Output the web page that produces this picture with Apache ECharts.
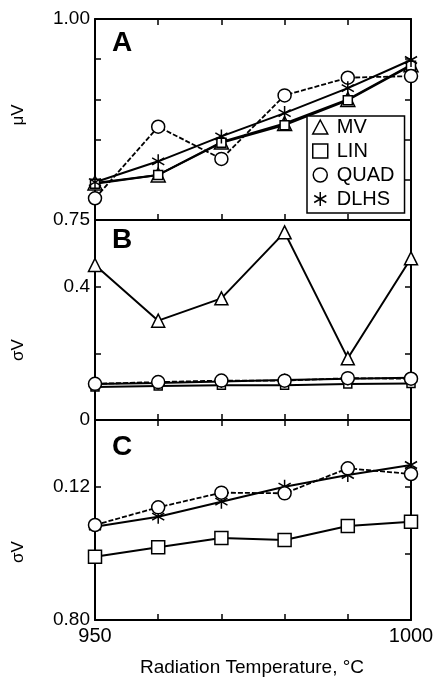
<!DOCTYPE html>
<html><head><meta charset="utf-8">
<script src="https://cdn.jsdelivr.net/npm/echarts@6/dist/echarts.min.js"></script>
<style>html,body{margin:0;padding:0;background:#fff}#c{width:437px;height:679px}</style>
</head><body><div id="c"></div>
<script>
const temps = [950, 960, 970, 980, 990, 1000];
// Panel A: mean (mu_V)
const muMV   = [0.796, 0.806, 0.847, 0.870, 0.900, 0.943];
const muLIN  = [0.795, 0.806, 0.846, 0.868, 0.899, 0.942];
const muQUAD = [0.777, 0.866, 0.826, 0.905, 0.927, 0.929];
const muDLHS = [0.797, 0.823, 0.854, 0.883, 0.914, 0.949];
// Panels B and C: sigma_V
const sigMV   = [0.465, 0.298, 0.365, 0.563, 0.185, 0.485];
const sigLIN  = [0.0990, 0.1018, 0.1046, 0.1040, 0.1082, 0.1095];
const sigQUAD = [0.1085, 0.1138, 0.1182, 0.1180, 0.1255, 0.1238];
const sigDLHS = [0.1080, 0.1110, 0.1155, 0.1200, 0.1235, 0.1265];
// tick labels
const xLabelVals = [950, 1000];         const xLabelText = ['950', '1000'];
const yLabelValsA = [0.75, 1.00];       const yLabelTextA = ['0.75', '1.00'];
const yLabelValsB = [0, 0.4];           const yLabelTextB = ['0', '0.4'];
const yLabelValsC = [0.08, 0.12];       const yLabelTextC = ['0.80', '0.12'];
const seriesNames = ['MV', 'LIN', 'QUAD', 'DLHS'];

const FONT = 'Liberation Sans, Arial, sans-serif';
const STAR = 'path://M0,-10L0,10M-8.66,-5L8.66,5M-8.66,5L8.66,-5';
function pairs(v){ return temps.map((t,i)=>[t, v[i]]); }
function fmt(vals, texts){
  return function(v){ for (let i=0;i<vals.length;i++) if (Math.abs(v-vals[i])<1e-6) return texts[i]; return ''; };
}
const grids = [
  {left:95, top:19, width:316, height:201},
  {left:95, top:220, width:316, height:200},
  {left:95, top:420, width:316, height:200}
];
const yRanges = [[0.75,1.00,0.05,yLabelValsA,yLabelTextA],[0,0.6,0.2,yLabelValsB,yLabelTextB],[0.08,0.14,0.02,yLabelValsC,yLabelTextC]];
const axLine = {show:true, lineStyle:{color:'#000', width:2}};
const tick = {show:true, inside:true, length:6, lineStyle:{color:'#000', width:1.5}};
const xAxes = [], yAxes = [];
grids.forEach((g,i)=>{
  xAxes.push({type:'value', gridIndex:i, position:'bottom', min:950, max:1000, interval:10,
    axisLine:axLine, axisTick:tick, splitLine:{show:false},
    axisLabel:{show:i===2, formatter:fmt(xLabelVals,xLabelText), color:'#000', fontSize:20, fontFamily:FONT, margin:6, showMinLabel:true, showMaxLabel:true}});
  xAxes.push({type:'value', gridIndex:i, position:'top', min:950, max:1000, interval:10,
    axisLine:axLine, axisTick:tick, splitLine:{show:false}, axisLabel:{show:false}});
  const r = yRanges[i];
  yAxes.push({type:'value', gridIndex:i, position:'left', min:r[0], max:r[1], interval:r[2],
    axisLine:axLine, axisTick:tick, splitLine:{show:false},
    axisLabel:{formatter:fmt(r[3],r[4]), color:'#000', fontSize:19, fontFamily:FONT, margin:5, showMinLabel:true, showMaxLabel:true}});
  yAxes.push({type:'value', gridIndex:i, position:'right', min:r[0], max:r[1], interval:r[2],
    axisLine:axLine, axisTick:tick, splitLine:{show:false}, axisLabel:{show:false}});
});
const symItem = {color:'#fff', borderColor:'#000', borderWidth:1.5};
function mk(name, gi, data, symbol, size, dashed){
  return {type:'line', name:name, xAxisIndex:gi*2, yAxisIndex:gi*2, data:pairs(data),
    symbol:symbol, symbolSize:size, symbolKeepAspect:true, showSymbol:true,
    lineStyle:{color:'#000', width:dashed?1.8:2, type:dashed?[5,2]:'solid'},
    itemStyle:symItem, emphasis:{disabled:true}, silent:true, z:2};
}
const series = [
  mk('MV',0,muMV,'triangle',14,false),
  mk('LIN',0,muLIN,'rect',9,false),
  mk('QUAD',0,muQUAD,'circle',13,true),
  mk('DLHS',0,muDLHS,STAR,14,false),
  mk('MV',1,sigMV,'triangle',13,false),
  mk('LIN',1,sigLIN,'rect',8,false),
  mk('DLHS',1,sigDLHS,STAR,13,false),
  mk('QUAD',1,sigQUAD,'circle',13,true),
  mk('LIN',2,sigLIN,'rect',13,false),
  mk('DLHS',2,sigDLHS,STAR,14,false),
  mk('QUAD',2,sigQUAD,'circle',13,true)
];
const icons = {MV:'triangle', LIN:'rect', QUAD:'circle', DLHS:STAR};
const chart = echarts.init(document.getElementById('c'), null, {renderer:'canvas'});
chart.setOption({
  animation:false,
  backgroundColor:'#fff',
  grid:grids,
  xAxis:xAxes, yAxis:yAxes, series:series,
  legend:{
    left:307, top:116, orient:'vertical', selectedMode:false,
    backgroundColor:'#fff', borderColor:'#000', borderWidth:1.5,
    padding:[1,10,4,5], itemWidth:15, itemHeight:14, itemGap:4,
    textStyle:{color:'#000', fontSize:20, fontFamily:FONT, lineHeight:20, padding:[0,0,0,4]},
    data:seriesNames.map(n=>({name:n, icon:icons[n], itemStyle:{color:'#fff', borderColor:'#000', borderWidth:1.5}}))
  },
  graphic:[
    {type:'text', x:112, y:43, style:{text:'A', font:'bold 28px '+FONT, fill:'#000', textVerticalAlign:'middle'}},
    {type:'text', x:112, y:240, style:{text:'B', font:'bold 28px '+FONT, fill:'#000', textVerticalAlign:'middle'}},
    {type:'text', x:112, y:447, style:{text:'C', font:'bold 28px '+FONT, fill:'#000', textVerticalAlign:'middle'}},
    {type:'text', x:18, y:115, rotation:Math.PI/2, style:{text:'μV', font:'17px '+FONT, fill:'#000', textAlign:'center', textVerticalAlign:'middle'}},
    {type:'text', x:18, y:350, rotation:Math.PI/2, style:{text:'σV', font:'17px '+FONT, fill:'#000', textAlign:'center', textVerticalAlign:'middle'}},
    {type:'text', x:18, y:552, rotation:Math.PI/2, style:{text:'σV', font:'17px '+FONT, fill:'#000', textAlign:'center', textVerticalAlign:'middle'}},
    {type:'text', x:252, y:668, style:{text:'Radiation Temperature, °C', font:'19px '+FONT, fill:'#000', textAlign:'center', textVerticalAlign:'middle'}}
  ]
});
</script></body></html>
